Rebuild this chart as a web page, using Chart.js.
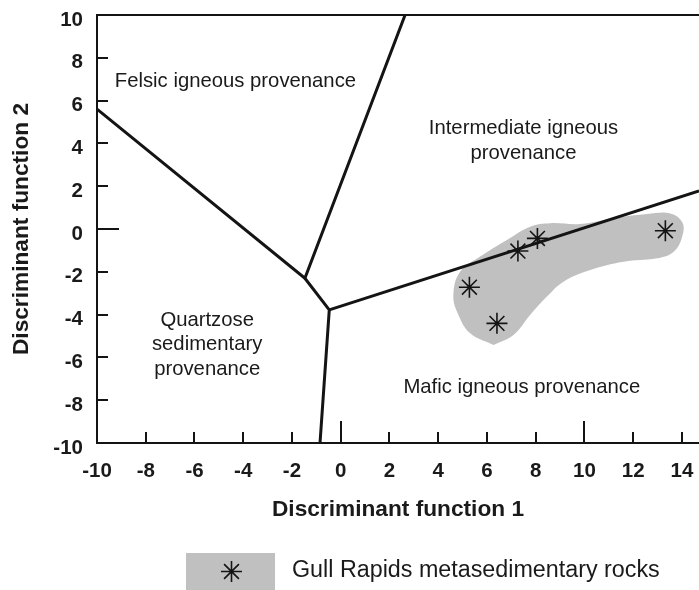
<!DOCTYPE html>
<html>
<head>
<meta charset="utf-8">
<script src="https://cdn.jsdelivr.net/npm/chart.js@4.4.0/dist/chart.umd.min.js"></script>
<style>
	html, body { margin: 0; padding: 0; background: #fff; }
	#wrap { width: 699px; height: 590px; }
</style>
</head>
<body>
<div id="wrap"><canvas id="chart" width="699" height="590"></canvas></div>
<script>
/* Discriminant function plot — provenance fields with Gull Rapids samples */

var xTicks = [-10, -8, -6, -4, -2, 0, 2, 4, 6, 8, 10, 12, 14];
var yTicks = [-10, -8, -6, -4, -2, 0, 2, 4, 6, 8, 10];

// Gull Rapids metasedimentary rocks
var sampleX = [13.32, 8.07, 7.27, 5.28, 6.41];
var sampleY = [-0.08, -0.44, -1.03, -2.72, -4.41];

// grey envelope around the samples (closed outline)
var fieldX = [6.27, 5.31, 4.83, 4.62, 4.90, 5.72, 6.82, 7.77, 8.60, 9.83, 11.19, 12.57, 13.52, 14.02, 14.00, 13.66, 12.98, 11.60, 10.24, 9.14, 8.46, 7.77, 7.09, 6.27];
var fieldY = [-5.42, -4.87, -4.02, -3.10, -2.00, -1.29, -0.51, 0.11, 0.27, 0.23, 0.50, 0.70, 0.73, 0.30, -0.40, -1.06, -1.37, -1.53, -1.92, -2.46, -3.16, -4.02, -4.95, -5.42];

// field boundaries
var boundaryAX = [-10, -1.47, 2.64];
var boundaryAY = [5.6, -2.3, 10];
var boundaryBX = [-1.47, -0.47, -0.85];
var boundaryBY = [-2.3, -3.78, -10];
var boundaryCX = [-0.47, 14.7];
var boundaryCY = [-3.78, 1.78];

var regionLabels = [
	{ lines: ["Felsic igneous provenance"], x: -4.32, y: 6.88 },
	{ lines: ["Intermediate igneous", "provenance"], x: 7.5, y: 4.12 },
	{ lines: ["Quartzose", "sedimentary", "provenance"], x: -5.48, y: -5.41 },
	{ lines: ["Mafic igneous provenance"], x: 7.43, y: -7.4 }
];

var legendLabel = "Gull Rapids metasedimentary rocks";

var INK = "#141414";
var GREY = "#c0c0c0";
var FONT = "'Liberation Sans', Arial, Helvetica, sans-serif";

function pts(xs, ys) {
	return xs.map(function (x, i) { return { x: x, y: ys[i] }; });
}

function boundary(xs, ys) {
	return {
		data: pts(xs, ys),
		showLine: true,
		borderColor: INK,
		borderWidth: 3,
		pointRadius: 0,
		fill: false,
		tension: 0,
	};
}

var decor = {
	id: "decor",
	afterDatasetsDraw: function (chart) {
		var ctx = chart.ctx;
		var a = chart.chartArea;
		var sx = chart.scales.x, sy = chart.scales.y;
		ctx.save();
		ctx.strokeStyle = INK;
		ctx.lineWidth = 2;
		ctx.beginPath();
		// top frame
		ctx.moveTo(a.left, a.top);
		ctx.lineTo(a.right, a.top);
		// inward ticks
		xTicks.forEach(function (v) {
			if (v === -10) return;
			var px = Math.round(sx.getPixelForValue(v));
			var len = (v === 0 || v === 10) ? 22 : 11;
			ctx.moveTo(px, a.bottom);
			ctx.lineTo(px, a.bottom - len);
		});
		yTicks.forEach(function (v) {
			if (v === -10 || v === 10) return;
			var py = Math.round(sy.getPixelForValue(v));
			var len = v === 0 ? 22 : 11;
			ctx.moveTo(a.left, py);
			ctx.lineTo(a.left + len, py);
		});
		ctx.stroke();

		// region names
		ctx.fillStyle = "#1a1a1a";
		ctx.font = "20.3px " + FONT;
		ctx.textAlign = "center";
		ctx.textBaseline = "middle";
		regionLabels.forEach(function (r) {
			var cx = sx.getPixelForValue(r.x);
			var cy = sy.getPixelForValue(r.y);
			var lh = 24.6;
			var y0 = cy - (r.lines.length - 1) * lh / 2;
			r.lines.forEach(function (t, i) {
				ctx.fillText(t, cx, y0 + i * lh);
			});
		});
		ctx.restore();
	},
	afterDraw: function (chart) {
		var ctx = chart.ctx;
		ctx.save();
		ctx.fillStyle = GREY;
		ctx.fillRect(186, 553, 89, 37);
		ctx.strokeStyle = INK;
		ctx.lineWidth = 1.6;
		Chart.helpers.drawPoint(ctx, { pointStyle: "star", radius: 10.5, rotation: 0, borderWidth: 1.6 }, 231.5, 571.5);
		ctx.fillStyle = "#1a1a1a";
		ctx.font = "23.3px " + FONT;
		ctx.textAlign = "left";
		ctx.textBaseline = "alphabetic";
		ctx.fillText(legendLabel, 292, 577);
		ctx.restore();
	}
};

var tickFont = { family: FONT, size: 20.5, weight: "bold" };
var titleFont = { family: FONT, size: 22.7, weight: "bold" };

new Chart(document.getElementById("chart"), {
	type: "scatter",
	data: {
		datasets: [
			{
				data: pts(sampleX, sampleY),
				pointStyle: "star",
				pointRadius: 10.5,
				pointBorderWidth: 1.6,
				borderColor: INK,
				backgroundColor: INK,
				showLine: false,
			},
			boundary(boundaryAX, boundaryAY),
			boundary(boundaryBX, boundaryBY),
			boundary(boundaryCX, boundaryCY),
			{
				data: pts(fieldX, fieldY),
				showLine: true,
				fill: "shape",
				backgroundColor: GREY,
				borderColor: "rgba(0,0,0,0)",
				borderWidth: 1,
				pointRadius: 0,
				tension: 0.4,
			},
		],
	},
	options: {
		responsive: false,
		animation: false,
		layout: { autoPadding: false, padding: { top: 15, right: 0, bottom: 67, left: 0 } },
		plugins: {
			legend: { display: false },
			tooltip: { enabled: false },
		},
		scales: {
			x: {
				type: "linear",
				min: -10,
				max: 14.7,
				afterBuildTicks: function (axis) {
					axis.ticks = xTicks.map(function (v) { return { value: v }; });
				},
				afterFit: function (s) {
					s.height = 80;
					s.paddingLeft = 0;
					s.paddingRight = 0;
				},
				grid: { display: false, drawTicks: false },
				border: { display: true, color: INK, width: 2 },
				ticks: {
					color: "#1a1a1a",
					font: tickFont,
					padding: 16,
					maxRotation: 0,
					autoSkip: false,
					callback: function (v) { return String(v); },
				},
				title: {
					display: true,
					text: "Discriminant function 1",
					color: "#1a1a1a",
					font: titleFont,
					padding: 0,
				},
			},
			y: {
				type: "linear",
				min: -10,
				max: 10,
				afterBuildTicks: function (axis) {
					axis.ticks = yTicks.map(function (v) { return { value: v }; });
				},
				afterFit: function (s) {
					s.width = 97;
					s.paddingTop = 0;
					s.paddingBottom = 0;
				},
				grid: { display: false, drawTicks: false },
				border: { display: true, color: INK, width: 2 },
				ticks: {
					color: "#1a1a1a",
					font: tickFont,
					padding: 14,
					labelOffset: 5,
					autoSkip: false,
					callback: function (v) { return String(v); },
				},
				title: {
					display: true,
					text: "Discriminant function 2",
					color: "#1a1a1a",
					font: titleFont,
					padding: { top: 8, bottom: 0 },
				},
			},
		},
	},
	plugins: [decor],
});
</script>
</body>
</html>
